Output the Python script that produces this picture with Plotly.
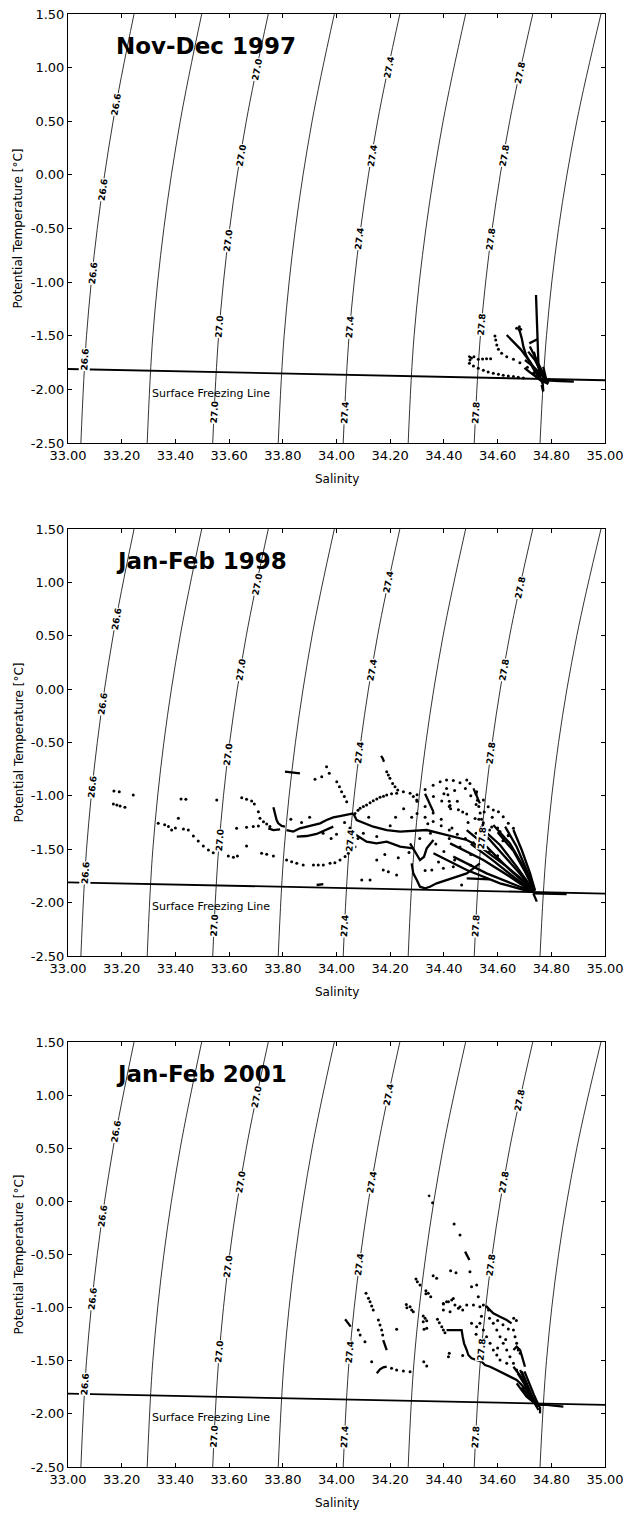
import numpy as np
import plotly.graph_objects as go

# ---------------- data ----------------
T_LEVELS = [-2.5, -1.5, -0.5, 0.5, 1.5]
SIGMA_NAMES = ["26.6", "26.8", "27.0", "27.2", "27.4", "27.6", "27.8", "28.0"]
ISO_26_6 = [33.048, 33.069, 33.109, 33.168, 33.246]
ISO_26_8 = [33.295, 33.316, 33.357, 33.418, 33.498]
ISO_27_0 = [33.539, 33.561, 33.602, 33.664, 33.746]
ISO_27_2 = [33.783, 33.805, 33.847, 33.909, 33.992]
ISO_27_4 = [34.025, 34.047, 34.090, 34.153, 34.236]
ISO_27_6 = [34.267, 34.289, 34.333, 34.397, 34.481]
ISO_27_8 = [34.513, 34.536, 34.580, 34.645, 34.731]
ISO_28_0 = [34.758, 34.782, 34.827, 34.895, 34.985]
ISOPYCNALS = [ISO_26_6, ISO_26_8, ISO_27_0, ISO_27_2, ISO_27_4, ISO_27_6, ISO_27_8, ISO_28_0]

FREEZE_S = [33.0, 35.0]
FREEZE_T = [-1.81, -1.915]

PANEL_TITLES = ["Nov-Dec 1997", "Jan-Feb 1998", "Jan-Feb 2001"]
X_TICKS = [33.0, 33.2, 33.4, 33.6, 33.8, 34.0, 34.2, 34.4, 34.6, 34.8, 35.0]
X_TICK_TEXT = ["33.00", "33.20", "33.40", "33.60", "33.80", "34.00", "34.20", "34.40", "34.60", "34.80", "35.00"]
Y_TICKS = [1.5, 1.0, 0.5, 0.0, -0.5, -1.0, -1.5, -2.0, -2.5]
Y_TICK_TEXT = ["1.50", "1.00", "0.50", "0.00", "-0.50", "-1.00", "-1.50", "-2.00", "-2.50"]

# ---- Panel 1 (Nov-Dec 1997)
P1_LINE_S = [34.743, 34.744, 34.745, 34.747, 34.748, 34.748, 34.749, 34.752, 34.755, 34.760, 34.768, 34.770, None,
             34.748, 34.733, 34.718, None,
             34.677, 34.683, 34.690, 34.696, 34.706, 34.721, 34.739, 34.755, None,
             34.634, 34.646, 34.659, 34.671, 34.686, 34.702, 34.721, 34.739, 34.755, None,
             34.702, 34.733, 34.764, 34.783, None,
             34.714, 34.739, 34.758, None,
             34.770, 34.776, 34.783, None,
             34.727, 34.758, 34.789, None,
             34.758, 34.795, 34.832, 34.870, 34.884, None,
             34.764, 34.768, 34.770, None,
             34.491, 34.500, 34.507, None,
             34.720, 34.740, 34.760, 34.780, None,
             34.735, 34.750, 34.765, None,
             34.700, 34.720, 34.745, 34.770, None,
             34.760, 34.775, 34.790]
P1_LINE_T = [-1.120, -1.198, -1.291, -1.384, -1.477, -1.571, -1.664, -1.757, -1.835, -1.897, -1.950, -2.012, None,
             -1.533, -1.549, -1.571, None,
             -1.431, -1.462, -1.524, -1.602, -1.680, -1.757, -1.835, -1.888, None,
             -1.493, -1.524, -1.555, -1.586, -1.627, -1.680, -1.742, -1.813, -1.875, None,
             -1.726, -1.788, -1.866, -1.928, None,
             -1.648, -1.726, -1.819, None,
             -1.788, -1.866, -1.928, None,
             -1.850, -1.913, -1.950, None,
             -1.906, -1.919, -1.922, -1.925, -1.928, None,
             -1.959, -1.990, -2.021, None,
             -1.689, -1.701, -1.714, None,
             -1.600, -1.700, -1.800, -1.900, None,
             -1.650, -1.780, -1.870, None,
             -1.800, -1.840, -1.880, -1.910, None,
             -1.850, -1.900, -1.940]
P1_DOT_S = [34.671, 34.686, 34.681,
            34.590, 34.593, 34.597, 34.603, 34.615, 34.634, 34.659, 34.683, 34.711, 34.736,
            34.495, 34.510, 34.528, 34.547, 34.565, 34.584, 34.603, 34.621, 34.640, 34.659, 34.677, 34.696,
            34.497, 34.512,
            34.528, 34.544, 34.559, 34.574]
P1_DOT_T = [-1.431, -1.440, -1.415,
            -1.502, -1.540, -1.586, -1.627, -1.664, -1.695, -1.720, -1.751, -1.794, -1.844,
            -1.757, -1.782, -1.804, -1.822, -1.838, -1.850, -1.860, -1.869, -1.875, -1.881, -1.888, -1.894,
            -1.726, -1.695,
            -1.720, -1.717, -1.714, -1.714]

# ---- Panel 2 (Jan-Feb 1998)
P2_LINE_S = [33.765, 33.769, 33.773, 33.777, 33.783, 33.796, 33.808, None,
             33.746, 33.765, 33.790, None,
             33.814, 33.839, 33.864, 33.889, 33.914, 33.939, 33.963, 33.988, 34.013, 34.038, 34.063, None,
             33.852, 33.889, 33.926, 33.963, 33.988, None,
             34.063, 34.075, 34.137, 34.187, 34.237, 34.286, 34.336, 34.386, 34.435, 34.485, 34.534, 34.584, 34.634, 34.700, 34.733, None,
             34.063, 34.112, 34.149, 34.187, 34.237, 34.286, None,
             33.808, 33.864, None,
             34.166, 34.172, 34.177, None,
             33.926, 33.951, None,
             34.280, 34.286, 34.299, 34.311, 34.330, 34.348, 34.373, 34.410, 34.448, 34.485, 34.510, 34.534, None,
             34.485, 34.571, None,
             34.274, 34.293, 34.311, 34.326, 34.336, 34.361, None,
             34.361, 34.485, 34.609, 34.721, None,
             34.423, 34.547, 34.646, 34.727, None,
             34.485, 34.559, 34.646, 34.733, None,
             34.534, 34.609, 34.671, 34.733, None,
             34.584, 34.646, 34.696, 34.737, None,
             34.628, 34.671, 34.708, 34.739, None,
             34.659, 34.690, 34.721, 34.739, None,
             34.435, 34.559, 34.683, 34.733, None,
             34.500, 34.580, 34.660, 34.730, None,
             34.560, 34.620, 34.680, 34.735, None,
             34.600, 34.660, 34.700, 34.738, None,
             34.733, 34.739, 34.746, None,
             34.733, 34.795, 34.857, None,
             34.330, 34.345, 34.361, None,
             34.510, 34.522, 34.534]
P2_LINE_T = [-1.107, -1.148, -1.189, -1.226, -1.257, -1.282, -1.288, None,
             -1.304, -1.320, -1.313, None,
             -1.320, -1.335, -1.304, -1.288, -1.273, -1.257, -1.226, -1.201, -1.189, -1.179, -1.164, None,
             -1.382, -1.376, -1.357, -1.320, -1.288, None,
             -1.164, -1.226, -1.289, -1.320, -1.335, -1.326, -1.320, -1.351, -1.382, -1.413, -1.476, -1.570, -1.663, -1.800, -1.882, None,
             -1.351, -1.429, -1.445, -1.429, -1.476, -1.492, None,
             -0.773, -0.789, None,
             -0.626, -0.648, -0.680, None,
             -1.835, -1.826, None,
             -1.632, -1.726, -1.788, -1.851, -1.866, -1.851, -1.819, -1.788, -1.757, -1.726, -1.679, -1.632, None,
             -1.772, -1.782, None,
             -1.445, -1.523, -1.601, -1.570, -1.492, -1.413, None,
             -1.538, -1.694, -1.819, -1.897, None,
             -1.445, -1.601, -1.757, -1.897, None,
             -1.320, -1.476, -1.694, -1.888, None,
             -1.288, -1.460, -1.663, -1.882, None,
             -1.273, -1.445, -1.663, -1.888, None,
             -1.288, -1.476, -1.694, -1.888, None,
             -1.320, -1.507, -1.726, -1.882, None,
             -1.569, -1.726, -1.851, -1.897, None,
             -1.450, -1.600, -1.760, -1.890, None,
             -1.380, -1.550, -1.720, -1.890, None,
             -1.340, -1.520, -1.700, -1.890, None,
             -1.913, -1.944, -1.991, None,
             -1.913, -1.919, -1.919, None,
             -0.980, -1.060, -1.150, None,
             -0.930, -1.000, -1.070]
P2_DOT_S = [33.171, 33.191, 33.243, 33.169, 33.182, 33.194, 33.212,
            33.421, 33.439, 33.554, 33.411,
            33.336, 33.360, 33.374, 33.386, 33.400, 33.430, 33.448, 33.467, 33.485, 33.504, 33.523, 33.541, 33.597, 33.616, 33.631,
            33.628, 33.665, 33.690, 33.709,
            33.647, 33.665, 33.684, 33.694, 33.709, 33.715, 33.728, 33.740, 33.752,
            33.665, 33.721, 33.740, 33.765,
            33.814, 33.833, 33.852, 33.876, 33.914, 33.932, 33.951, 33.976, 33.994, 34.013, 34.032, 34.044, 34.057, 34.069,
            33.920, 33.945, 33.963, 33.973,
            34.001, 34.011, 34.019, 34.029, 34.038,
            34.069, 34.080, 34.088, 34.100, 34.112, 34.125, 34.137, 34.150, 34.162, 34.175, 34.187, 34.205, 34.224, 34.249, 34.274, 34.286, 34.299,
            34.187, 34.193, 34.199, 34.209, 34.218, 34.228,
            34.300, 34.330, 34.360, 34.386, 34.410, 34.435, 34.460, 34.485, 34.497, 34.522, 34.547, 34.565, 34.584, 34.603, 34.621, 34.640, 34.659,
            34.410, 34.415, 34.420, 34.425,
            34.094, 34.125, 34.174, 34.193, 34.224, 34.355, 34.398, 34.435, 34.466,
            34.30, 34.33, 34.36, 34.39, 34.42, 34.45, 34.47, 34.50, 34.52, 34.55, 34.58, 34.40, 34.44, 34.48, 34.34,
            34.37, 34.40, 34.43, 34.46, 34.50, 34.52, 34.56, 34.60, 34.28, 34.25, 34.22, 34.20, 34.18, 34.15, 34.23,
            34.27, 34.31, 34.35, 34.42, 34.49, 34.53, 34.57, 34.62, 34.64, 34.44, 34.38, 34.33, 34.50,
            33.90, 33.95, 33.98, 34.00, 34.03, 34.05, 34.08, 34.10, 34.12, 34.15, 33.83, 33.87,
            34.361, 34.392, 34.423, 34.454, 34.485, 34.516, 34.547, 34.578, 34.609, 34.640,
            34.300, 34.330, 34.360, 34.390, 34.420, 34.450, 34.480, 34.510, 34.540, 34.570, 34.600,
            34.520, 34.525, 34.530, 34.535, 34.540, 34.545, 34.550]
P2_DOT_T = [-0.954, -0.961, -0.992, -1.076, -1.085, -1.095, -1.107,
            -1.029, -1.032, -1.039, -1.210,
            -1.257, -1.270, -1.288, -1.320, -1.300, -1.310, -1.320, -1.376, -1.423, -1.470, -1.507, -1.532, -1.563, -1.576, -1.563,
            -1.304, -1.295, -1.288, -1.282,
            -1.017, -1.032, -1.048, -1.076, -1.148, -1.210, -1.242, -1.264, -1.288,
            -1.470, -1.538, -1.548, -1.563,
            -1.601, -1.616, -1.632, -1.647, -1.647, -1.647, -1.647, -1.632, -1.626, -1.601, -1.569, -1.538, -1.507, -1.476,
            -0.845, -0.820, -0.726, -0.789,
            -0.867, -0.914, -0.961, -1.007, -1.054,
            -1.164, -1.135, -1.117, -1.100, -1.085, -1.065, -1.045, -1.030, -1.014, -1.003, -0.992, -0.980, -0.976, -0.961, -0.976, -1.007, -1.039,
            -0.773, -0.804, -0.836, -0.883, -0.914, -0.945,
            -0.990, -0.940, -0.900, -0.867, -0.851, -0.857, -0.876, -0.851, -0.883, -0.961, -1.039, -1.101, -1.132, -1.148, -1.195, -1.257, -1.304,
            -0.930, -0.990, -1.050, -1.120,
            -1.788, -1.788, -1.694, -1.710, -1.741, -1.694, -1.679, -1.663, -1.835,
            -1.05, -1.10, -1.16, -1.22, -1.10, -1.05, -1.15, -1.00, -1.08, -1.15, -1.20, -0.98, -0.95, -0.93, -1.26,
            -1.45, -1.52, -1.30, -1.48, -1.55, -1.35, -1.40, -1.30, -1.20, -1.12, -1.20, -1.28, -1.55, -1.60, -1.58,
            -1.53, -1.40, -1.35, -1.40, -1.25, -1.22, -1.32, -1.42, -1.37, -1.60, -1.62, -1.70, -1.65,
            -1.20, -1.35, -1.40, -1.36, -1.25, -1.30, -1.40, -1.35, -1.20, -1.38, -1.22, -1.25,
            -1.007, -1.048, -1.089, -1.130, -1.170, -1.211, -1.252, -1.292, -1.333, -1.374,
            -1.164, -1.200, -1.240, -1.280, -1.320, -1.360, -1.400, -1.440, -1.480, -1.520, -1.560,
            -0.980, -1.040, -1.100, -1.160, -1.220, -1.270, -1.320]

# ---- Panel 3 (Jan-Feb 2001)
P3_LINE_S = [34.479, 34.485, 34.491, 34.495, None,
             34.559, 34.584, 34.609, 34.634, 34.652, None,
             34.410, 34.435, 34.466, 34.470, 34.475, 34.485, 34.491, 34.503, 34.522, 34.541, 34.553, 34.572, 34.597, 34.621, 34.646, 34.671, 34.684, 34.702, 34.721, 34.739, 34.758, None,
             34.659, 34.671, 34.684, 34.690, 34.696, 34.702, None,
             34.659, 34.696, 34.727, 34.746, None,
             34.684, 34.708, 34.733, 34.752, None,
             34.671, 34.708, 34.746, None,
             34.696, 34.715, 34.739, None,
             34.690, 34.705, 34.725, 34.745, None,
             34.675, 34.700, 34.725, 34.748, None,
             34.700, 34.715, 34.735, 34.755, None,
             34.690, 34.720, 34.745, None,
             34.758, 34.758, None,
             34.746, 34.783, 34.845, None,
             34.032, 34.044, 34.053, None,
             34.174, 34.181, 34.187, None,
             34.150, 34.162, 34.174, 34.187, None,
             34.342, 34.348]
P3_LINE_T = [-0.473, -0.505, -0.536, -0.552, None,
             -0.991, -1.054, -1.085, -1.117, -1.148, None,
             -1.211, -1.211, -1.211, -1.273, -1.336, -1.399, -1.446, -1.477, -1.493, -1.509, -1.540, -1.556, -1.587, -1.618, -1.650, -1.681, -1.713, -1.760, -1.822, -1.885, -1.932, None,
             -1.399, -1.367, -1.399, -1.446, -1.493, -1.556, None,
             -1.556, -1.681, -1.838, -1.932, None,
             -1.587, -1.713, -1.869, -1.964, None,
             -1.713, -1.838, -1.916, None,
             -1.650, -1.776, -1.900, None,
             -1.600, -1.700, -1.820, -1.920, None,
             -1.620, -1.720, -1.840, -1.930, None,
             -1.600, -1.700, -1.820, -1.930, None,
             -1.750, -1.850, -1.920, None,
             -1.932, -1.995, None,
             -1.916, -1.916, -1.932, None,
             -1.110, -1.148, -1.179, None,
             -1.305, -1.367, -1.399, None,
             -1.618, -1.581, -1.562, -1.556, None,
             0.060, 0.044]
P3_DOT_S = [34.358, 34.438, 34.460,
            34.425, 34.445, 34.497, 34.373, 34.301, 34.311, 34.342, 34.351,
            34.503, 34.522, 34.528, 34.398, 34.410, 34.429, 34.435, 34.274, 34.280, 34.286,
            34.460, 34.470, 34.485, 34.510, 34.534, 34.547, 34.559, 34.566, 34.398, 34.423,
            34.584, 34.597, 34.609, 34.621, 34.634, 34.646, 34.659, 34.671,
            34.659, 34.665, 34.671, 34.677, 34.684,
            34.534, 34.547, 34.559, 34.572, 34.584, 34.597, 34.609, 34.634, 34.503, 34.522,
            34.110, 34.119, 34.125, 34.131, 34.137, 34.081, 34.088, 34.106,
            34.156, 34.162, 34.168, 34.172, 34.224, 34.131,
            34.205, 34.224, 34.249, 34.274, 34.336,
            34.323, 34.330, 34.336, 34.323, 34.336, 34.326,
            34.376, 34.383, 34.392, 34.398, 34.404,
            34.398, 34.417, 34.441, 34.454, 34.417,
            34.296, 34.333, 34.333, 34.360, 34.420, 34.470, 34.325, 34.260, 34.262,
            34.54, 34.57, 34.60, 34.62, 34.64, 34.52, 34.55, 34.60, 34.63, 34.66, 34.67]
P3_DOT_T = [-0.012, -0.213, -0.317,
            -0.652, -0.671, -0.662, -0.724, -0.756, -0.787, -0.865, -0.897,
            -0.803, -0.787, -0.897, -0.966, -0.944, -0.928, -0.913, -0.991, -1.022, -1.038,
            -0.991, -1.022, -0.975, -0.975, -0.991, -0.975, -0.991, -1.022, -1.022, -1.038,
            -1.148, -1.211, -1.273, -1.336, -1.399, -1.462, -1.524, -1.587,
            -1.211, -1.273, -1.336, -1.399, -1.430,
            -1.148, -1.211, -1.273, -1.336, -1.399, -1.446, -1.493, -1.524, -1.148, -1.179,
            -0.865, -0.912, -0.944, -0.985, -1.022, -1.211, -1.258, -1.320,
            -1.117, -1.164, -1.211, -1.258, -1.204, -1.509,
            -1.571, -1.587, -1.596, -1.603, -1.550,
            -1.079, -1.101, -1.123, -1.132, -1.195, -1.204,
            -1.110, -1.142, -1.179, -1.211, -1.236,
            -0.960, -0.944, -0.975, -1.007, -1.462,
            -0.730, -0.840, -0.870, -0.700, -1.430, -1.450, -1.510, -0.970, -1.000,
            -1.08, -1.10, -1.12, -1.16, -1.20, -1.25, -1.30, -1.38, -1.30, -1.10, -1.12]

PANELS = [
    (P1_LINE_S, P1_LINE_T, P1_DOT_S, P1_DOT_T),
    (P2_LINE_S, P2_LINE_T, P2_DOT_S, P2_DOT_T),
    (P3_LINE_S, P3_LINE_T, P3_DOT_S, P3_DOT_T),
]

# ---------------- layout constants ----------------
W, H = 627, 1514
LEFT, RIGHT = 68, 605
PANEL_PX = [(14, 443), (529, 956), (1042, 1467)]
X_DOMAIN = [LEFT / W, RIGHT / W]
LABEL_T = {
    "26.6": [0.66, -0.14, -0.92, -1.72],
    "27.0": [0.98, 0.18, -0.61, -1.42, -2.21],
    "27.4": [1.00, 0.18, -0.60, -1.42, -2.22],
    "27.8": [0.95, 0.18, -0.60, -1.40, -2.22],
}
FONT = "DejaVu Sans"

fig = go.Figure()
annotations = []
layout_axes = {}

for i, (ls, lt, ds, dt) in enumerate(PANELS):
    n = "" if i == 0 else str(i + 1)
    xa, ya = "x" + n, "y" + n
    top, bot = PANEL_PX[i]
    px_per_s = (RIGHT - LEFT) / 2.0
    px_per_t = (bot - top) / 4.0

    # isopycnals
    for name, svals in zip(SIGMA_NAMES, ISOPYCNALS):
        fig.add_trace(go.Scatter(x=svals, y=T_LEVELS, mode="lines",
                                 line=dict(color="black", width=0.8, shape="spline", smoothing=1.0),
                                 xaxis=xa, yaxis=ya, hoverinfo="skip"))
        if name in LABEL_T:
            s_arr = np.array(svals)
            t_arr = np.array(T_LEVELS)
            grad = np.gradient(s_arr, t_arr)
            for tl in LABEL_T[name]:
                sl = float(np.interp(tl, t_arr, s_arr))
                g = float(np.interp(tl, t_arr, grad))
                ang = -np.degrees(np.arctan2(px_per_t, g * px_per_s))
                annotations.append(dict(x=sl, y=tl, xref=xa, yref=ya, text="<b>" + name + "</b>",
                                        showarrow=False, textangle=ang, bgcolor="white", borderpad=0,
                                        font=dict(family=FONT, size=9, color="black"),
                                        xanchor="center", yanchor="middle"))

    # freezing line
    fig.add_trace(go.Scatter(x=FREEZE_S, y=FREEZE_T, mode="lines",
                             line=dict(color="black", width=1.8),
                             xaxis=xa, yaxis=ya, hoverinfo="skip"))
    # data
    fig.add_trace(go.Scatter(x=ls, y=lt, mode="lines", connectgaps=False,
                             line=dict(color="black", width=2.3),
                             xaxis=xa, yaxis=ya, hoverinfo="skip"))
    fig.add_trace(go.Scatter(x=ds, y=dt, mode="markers",
                             marker=dict(color="black", size=3),
                             xaxis=xa, yaxis=ya, hoverinfo="skip"))

    ydom = [1 - bot / H, 1 - top / H]
    common = dict(ticks="inside", ticklen=4, tickcolor="black",
                  showline=True, linecolor="black", linewidth=1, mirror="ticks",
                  showgrid=False, zeroline=False, automargin=False,
                  tickfont=dict(family=FONT, size=13, color="black"))
    layout_axes["xaxis" + n] = dict(domain=X_DOMAIN, anchor=ya, range=[33.0, 35.0],
                                    tickvals=X_TICKS, ticktext=X_TICK_TEXT, **common)
    layout_axes["yaxis" + n] = dict(domain=ydom, anchor=xa, range=[-2.5, 1.5],
                                    tickvals=Y_TICKS, ticktext=Y_TICK_TEXT, **common)

    # panel title
    annotations.append(dict(x=33.17, y=1.20, xref=xa, yref=ya, text="<b>" + PANEL_TITLES[i] + "</b>",
                            showarrow=False, xanchor="left", yanchor="middle",
                            font=dict(family=FONT, size=23, color="black")))
    # freezing line text
    annotations.append(dict(x=33.305, y=-2.035, xref=xa, yref=ya, text="Surface Freezing Line",
                            showarrow=False, xanchor="left", yanchor="middle",
                            font=dict(family=FONT, size=11, color="black")))
    # axis titles
    annotations.append(dict(x=18 / W, y=(ydom[0] + ydom[1]) / 2, xref="paper", yref="paper",
                            text="Potential Temperature [°C]", textangle=-90, showarrow=False,
                            xanchor="center", yanchor="middle",
                            font=dict(family=FONT, size=12, color="black")))
    annotations.append(dict(x=(LEFT + RIGHT) / 2 / W, y=1 - (bot + 36) / H, xref="paper", yref="paper",
                            text="Salinity", showarrow=False, xanchor="center", yanchor="middle",
                            font=dict(family=FONT, size=12, color="black")))

fig.update_layout(width=W, height=H, margin=dict(l=0, r=0, t=0, b=0),
                  paper_bgcolor="white", plot_bgcolor="white", showlegend=False,
                  annotations=annotations, **layout_axes)

fig.write_html("out.html")
